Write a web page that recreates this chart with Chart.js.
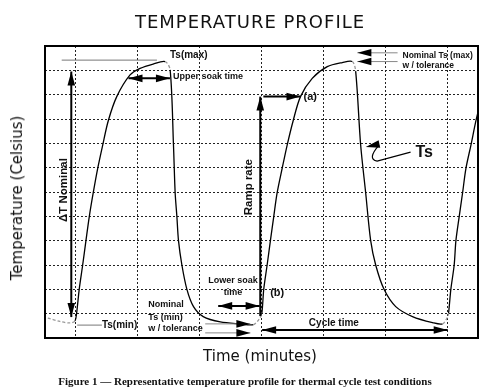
<!DOCTYPE html>
<html>
<head>
<meta charset="utf-8">
<script src="https://cdn.jsdelivr.net/npm/chart.js@4"></script>
<style>
body { margin: 0; background: #fff; }
#wrap { position: relative; width: 500px; height: 392px; }
canvas { position: absolute; left: 0; top: 0; }
.t { position: absolute; white-space: nowrap; color: #111; }
#title { left: 0; width: 500px; top: 11px; text-align: center; font: 18px "DejaVu Sans"; letter-spacing: 1px; }
#ytitle { left: 17px; top: 198px; transform: translate(-50%, -50%) rotate(-90deg); font: 15px "DejaVu Sans"; }
#xtitle { left: 260px; top: 356px; transform: translate(-50%, -50%); font: 15px "DejaVu Sans"; }
#caption { left: 245px; top: 381px; transform: translate(-50%, -50%); font: bold 11px "Liberation Serif"; }
</style>
</head>
<body>
<div id="wrap">
  <canvas id="chart" width="500" height="392"></canvas>
  <div class="t" id="title">TEMPERATURE PROFILE</div>
  <div class="t" id="ytitle">Temperature (Celsius)</div>
  <div class="t" id="xtitle">Time (minutes)</div>
  <div class="t" id="caption">Figure 1 — Representative temperature profile for thermal cycle test conditions</div>
</div>
<script>
// grid positions (time units / temperature units, no labels shown)
const xTicks = [0, 1, 2, 3, 4, 5, 6];
const yTicks = [1, 2, 3, 4, 5, 6, 7, 8, 9, 10, 11];

// profile curve
const profileX = [-0.454, -0.259, -0.097, -0.016,
  0.011, 0.053, 0.109, 0.162, 0.216, 0.280, 0.352, 0.433, 0.523, 0.660, 0.875, 1.037, 1.248, 1.442,
  1.523, 1.577, 1.604, 1.632, 1.658, 1.713, 1.794, 1.901, 2.058, 2.334, 2.658, 2.869,
  2.974, 3.006, 3.036, 3.091, 3.144, 3.198, 3.253, 3.334, 3.415, 3.512, 3.630, 3.820, 4.063, 4.306, 4.468,
  4.522, 4.603, 4.684, 4.765, 4.846, 4.981, 5.170, 5.441, 5.765, 5.927,
  6.008, 6.024, 6.061, 6.115, 6.143, 6.196, 6.251, 6.305, 6.386, 6.467, 6.55];
const profileY = [0.82, 0.68, 0.62, 0.70,
  1.02, 2.00, 3.00, 4.00, 4.99, 5.97, 6.97, 7.93, 8.93, 9.92, 10.81, 11.08, 11.26, 11.36,
  11.02, 7.93, 5.97, 4.99, 4.00, 3.00, 2.00, 1.29, 0.88, 0.66, 0.58, 0.55,
  0.82, 1.02, 2.00, 3.00, 4.00, 4.99, 5.97, 6.97, 7.93, 8.93, 9.92, 10.67, 11.15, 11.32, 11.36,
  10.97, 7.93, 5.97, 4.00, 3.00, 2.00, 1.29, 0.88, 0.63, 0.58,
  0.86, 1.02, 2.00, 3.00, 4.00, 4.99, 5.97, 6.97, 7.93, 8.93, 9.78];

// segments drawn as faint dashed transitions (start index)
const softSegs = [0, 1, 2, 17, 29, 30, 44, 54, 55];

function arrowHead(ctx, x1, y1, x2, y2, len, half) {
  const a = Math.atan2(y2 - y1, x2 - x1);
  ctx.beginPath();
  ctx.moveTo(x2, y2);
  ctx.lineTo(x2 - len * Math.cos(a) + half * Math.sin(a), y2 - len * Math.sin(a) - half * Math.cos(a));
  ctx.lineTo(x2 - len * Math.cos(a) - half * Math.sin(a), y2 - len * Math.sin(a) + half * Math.cos(a));
  ctx.closePath();
  ctx.fill();
}

function arrow(ctx, x1, y1, x2, y2, opts) {
  opts = opts || {};
  ctx.save();
  ctx.strokeStyle = opts.line || '#000';
  ctx.fillStyle = '#000';
  ctx.lineWidth = opts.width || 1.5;
  ctx.beginPath();
  ctx.moveTo(x1, y1);
  ctx.lineTo(x2, y2);
  ctx.stroke();
  const len = opts.len || 14, half = opts.half || 3.8;
  arrowHead(ctx, x1, y1, x2, y2, len, half);
  if (opts.both) arrowHead(ctx, x2, y2, x1, y1, len, half);
  ctx.restore();
}

const notes = {
  id: 'notes',
  afterDatasetsDraw(chart) {
    const ctx = chart.ctx;
    const xs = chart.scales.x, ys = chart.scales.y;
    const X = v => xs.getPixelForValue(v), Y = v => ys.getPixelForValue(v);
    const a = chart.chartArea;

    const text = (s, x, y, size, align, rot) => {
      ctx.save();
      ctx.fillStyle = '#111';
      ctx.font = 'bold ' + size + 'px "Liberation Sans"';
      ctx.textAlign = align || 'left';
      ctx.textBaseline = 'middle';
      ctx.translate(X(x), Y(y));
      if (rot) ctx.rotate(rot);
      ctx.fillText(s, 0, 0);
      ctx.restore();
    };

    // Ts(max) and Ts(min) reference lines
    ctx.save();
    ctx.strokeStyle = '#777';
    ctx.lineWidth = 1;
    ctx.beginPath();
    ctx.moveTo(X(-0.23), Y(11.42)); ctx.lineTo(X(1.31), Y(11.42));
    ctx.moveTo(X(0.02), Y(0.53)); ctx.lineTo(X(0.42), Y(0.53));
    ctx.stroke();
    ctx.restore();
    text('Ts(max)', 1.52, 11.6, 10);

    // upper soak time
    arrow(ctx, X(0.85), Y(10.67), X(1.52), Y(10.67), { both: true, width: 2 });
    text('Upper soak time', 1.57, 10.73, 9);

    // delta T nominal
    arrow(ctx, X(-0.075), Y(0.86), X(-0.075), Y(10.95), { both: true, width: 2 });
    text('\u0394T Nominal', -0.20, 6.08, 11.5, 'center', -Math.PI / 2);

    // Ts(min)
    text('Ts(min)', 0.42, 0.53, 10);
    text('Nominal', 1.17, 1.36, 9);
    text('Ts (min)', 1.17, 0.86, 9);
    text('w / tolerance', 1.17, 0.41, 9);
    arrow(ctx, X(2.09), Y(0.58), X(2.82), Y(0.58), { line: '#888', width: 1 });
    arrow(ctx, X(2.09), Y(0.21), X(2.82), Y(0.21), { line: '#888', width: 1 });

    // lower soak time
    text('Lower soak', 2.54, 2.38, 9, 'center');
    text('time', 2.54, 1.85, 9, 'center');
    arrow(ctx, X(2.30), Y(1.32), X(2.97), Y(1.32), { both: true, width: 2 });
    text('(b)', 3.14, 1.85, 11);

    // cycle time
    arrow(ctx, X(3.01), Y(0.33), X(6.01), Y(0.33), { both: true, width: 2 });
    text('Cycle time', 4.17, 0.62, 10, 'center');

    // ramp rate
    arrow(ctx, X(2.98), Y(0.9), X(2.98), Y(9.92), { width: 2 });
    text('Ramp rate', 2.80, 6.2, 11.5, 'center', -Math.PI / 2);
    arrow(ctx, X(3.03), Y(9.92), X(3.63), Y(9.92), { width: 2 });
    text('(a)', 3.68, 9.9, 11);

    // nominal Ts(max) with tolerance
    arrow(ctx, X(5.20), Y(11.72), X(4.55), Y(11.72), { line: '#888', width: 1 });
    arrow(ctx, X(5.20), Y(11.36), X(4.55), Y(11.36), { line: '#888', width: 1 });
    text('Nominal Ts (max)', 5.28, 11.59, 8.5);
    text('w / tolerance', 5.28, 11.18, 8.5);

    // Ts pointer
    ctx.save();
    ctx.strokeStyle = '#000';
    ctx.lineWidth = 1.2;
    ctx.beginPath();
    ctx.moveTo(X(4.90), Y(7.93));
    ctx.quadraticCurveTo(X(4.70), Y(7.35), X(4.87), Y(7.27));
    ctx.lineTo(X(5.41), Y(7.64));
    ctx.stroke();
    ctx.fillStyle = '#000';
    arrowHead(ctx, X(4.92), Y(7.98), X(4.685), Y(7.85), 14, 3.8);
    ctx.restore();
    text('Ts', 5.49, 7.62, 16);

    // frame
    ctx.save();
    ctx.strokeStyle = '#000';
    ctx.lineWidth = 2;
    ctx.strokeRect(a.left, a.top, a.right - a.left, a.bottom - a.top);
    ctx.restore();
  }
};

new Chart(document.getElementById('chart'), {
  type: 'scatter',
  data: {
    datasets: [{
      data: profileX.map((x, i) => ({ x: x, y: profileY[i] })),
      showLine: true,
      pointRadius: 0,
      borderColor: '#000',
      borderWidth: 1.3,
      tension: 0.3,
      segment: {
        borderColor: c => softSegs.includes(c.p0DataIndex) ? '#999' : '#000',
        borderDash: c => softSegs.includes(c.p0DataIndex) ? [3, 2] : undefined
      }
    }]
  },
  options: {
    responsive: false,
    animation: false,
    layout: { padding: { left: 45, top: 46, right: 22, bottom: 54 } },
    plugins: { legend: { display: false }, tooltip: { enabled: false } },
    scales: {
      x: {
        type: 'linear', min: -0.5, max: 6.5,
        afterBuildTicks: s => { s.ticks = xTicks.map(v => ({ value: v })); },
        ticks: { display: false },
        grid: { color: '#222', lineWidth: 1, drawTicks: false },
        border: { display: false, dash: [2, 2] }
      },
      y: {
        min: 0, max: 12,
        afterBuildTicks: s => { s.ticks = yTicks.map(v => ({ value: v })); },
        ticks: { display: false },
        grid: { color: '#222', lineWidth: 1, drawTicks: false },
        border: { display: false, dash: [2, 2] }
      }
    }
  },
  plugins: [notes]
});
</script>
</body>
</html>
